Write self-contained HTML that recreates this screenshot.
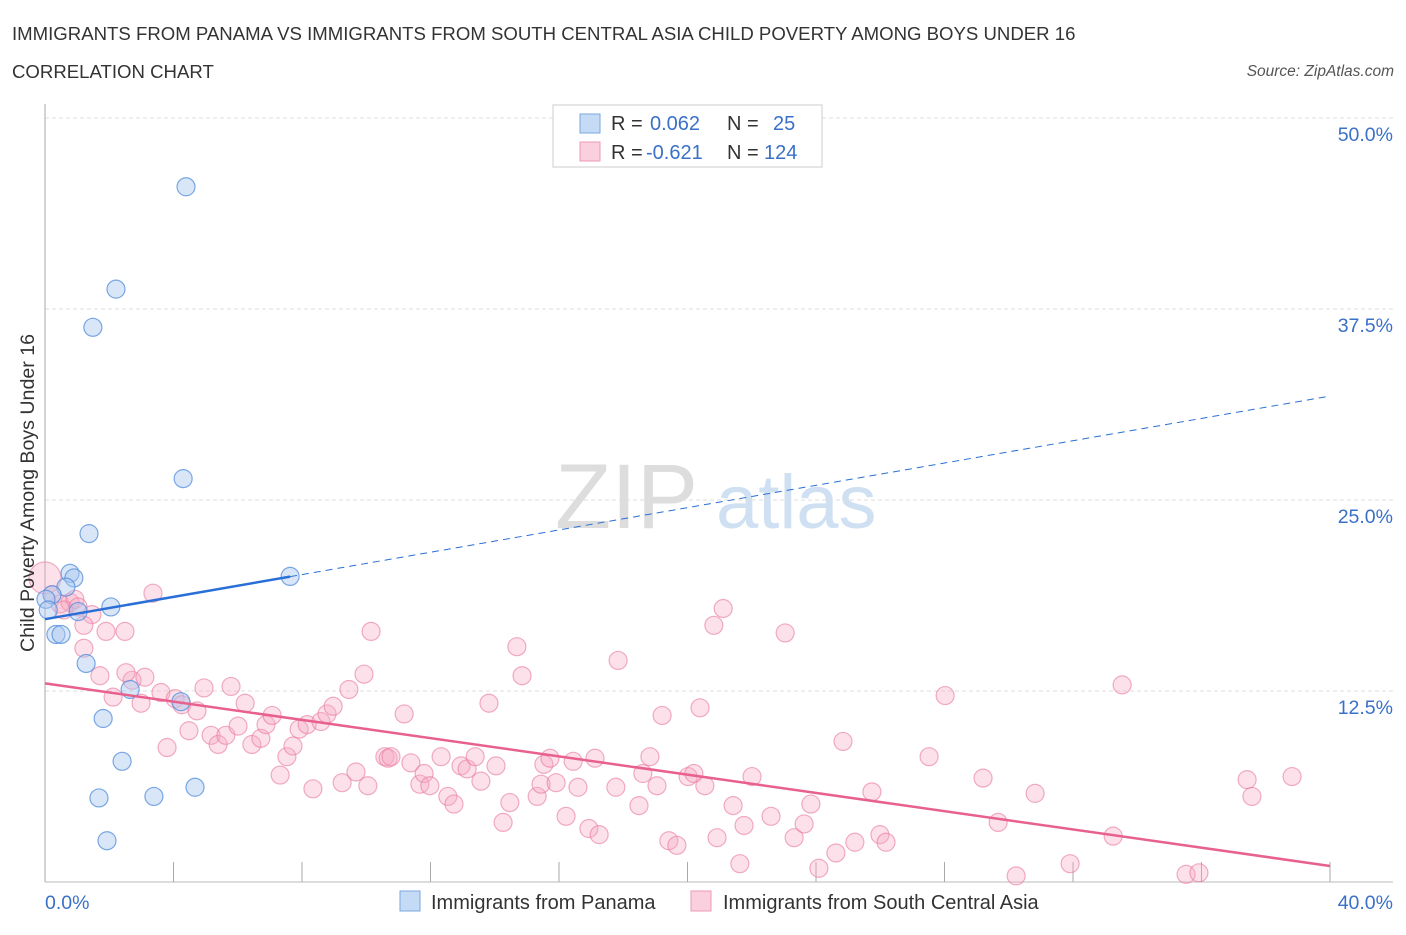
<!DOCTYPE html>
<html><head><meta charset="utf-8"><style>
body{margin:0;background:#fff;font-family:"Liberation Sans",sans-serif;}
svg text{font-family:"Liberation Sans",sans-serif;}
</style></head><body>
<svg id="chart" width="1406" height="930" xmlns="http://www.w3.org/2000/svg">
<text x="12" y="40" font-size="18.6" fill="#333">IMMIGRANTS FROM PANAMA VS IMMIGRANTS FROM SOUTH CENTRAL ASIA CHILD POVERTY AMONG BOYS UNDER 16</text>
<text x="12" y="78" font-size="18.6" fill="#333">CORRELATION CHART</text>
<text x="1394" y="76" font-size="15.5" fill="#555" text-anchor="end" font-style="italic">Source: ZipAtlas.com</text>
<text x="555" y="528" font-size="92" fill="#ddd" font-family="Liberation Serif">ZIP</text>
<text x="716" y="528" font-size="76" fill="#cfe0f3">atlas</text>
<g id="grid"></g><g id="axes"></g><g id="marks"></g>
<text transform="translate(34,493) rotate(-90)" font-size="19.6" fill="#333" text-anchor="middle">Child Poverty Among Boys Under 16</text>
<g>
<rect x="553" y="105" width="269" height="62" fill="#fff" stroke="#ccc"/>
<rect x="580" y="114" width="20" height="19" fill="#c5dbf5" stroke="#7aa7e0"/>
<rect x="580" y="142" width="20" height="19" fill="#fbd0de" stroke="#ec9ab5"/>
<text x="611" y="130" font-size="20" fill="#333">R = <tspan x="650" fill="#3a70c8">0.062</tspan><tspan x="727">N = </tspan><tspan x="773" fill="#3a70c8">25</tspan></text>
<text x="611" y="159" font-size="20" fill="#333">R = <tspan x="646" fill="#3a70c8">-0.621</tspan><tspan x="727">N = </tspan><tspan x="764" fill="#3a70c8">124</tspan></text>
</g>
<g>
<rect x="400" y="891" width="20" height="20" fill="#c5dbf5" stroke="#7aa7e0"/>
<text x="431" y="909" font-size="20" fill="#333">Immigrants from Panama</text>
<rect x="691" y="891" width="20" height="20" fill="#fbd0de" stroke="#ec9ab5"/>
<text x="723" y="909" font-size="20" fill="#333">Immigrants from South Central Asia</text>
</g>
</svg>
<script>
const yTicks=[12.5,25,37.5,50];
const yTickLabels=["12.5%","25.0%","37.5%","50.0%"];
const xTicks=[0,4,8,12,16,20,24,28,32,36,40];
const panamaX=[4.39,2.21,1.49,4.30,1.37,7.63,0.78,0.90,0.65,0.22,0.03,2.05,1.03,0.34,0.50,1.28,4.23,2.65,1.81,2.40,1.68,3.39,4.67,1.93,0.1];
const panamaY=[45.5,38.8,36.3,26.4,22.8,20.0,20.2,19.9,19.3,18.8,18.5,18.0,17.7,16.2,16.2,14.3,11.8,12.6,10.7,7.9,5.5,5.6,6.2,2.7,17.8];
const scaX=[0,.22,.47,.78,.93,.59,1.03,1.46,1.21,1.90,2.49,1.21,1.71,2.12,2.71,3.11,2.52,2.99,3.61,3.36,3.80,4.05,4.26,4.48,4.73,4.95,5.17,5.39,5.63,5.79,6.01,6.23,6.44,6.72,6.88,7.07,7.32,7.53,7.72,7.91,8.16,8.34,8.59,8.78,8.97,9.25,9.46,9.68,9.93,10.05,10.15,10.58,10.68,10.77,11.18,11.39,11.67,11.80,11.98,12.33,12.54,12.73,12.95,13.14,13.39,13.57,13.82,14.04,14.26,14.47,14.69,14.85,15.32,15.44,15.53,15.72,15.91,16.22,16.44,16.59,16.93,17.12,17.25,17.84,17.77,18.49,18.61,18.83,19.05,19.21,19.42,19.67,20.02,20.20,20.39,20.82,21.11,20.54,20.92,21.42,21.63,21.76,22.01,22.60,23.04,23.32,23.63,23.84,24.09,24.62,24.84,25.21,25.74,25.99,26.18,27.52,28.02,29.20,29.67,30.23,30.82,31.91,33.25,33.53,35.52,35.92,37.42,37.57,38.82];
const scaY=[19.9,18.8,18.2,18.3,18.5,17.8,18.0,17.5,16.8,16.4,16.4,15.3,13.5,12.1,13.2,13.4,13.7,11.7,12.4,18.9,8.8,12.0,11.6,9.9,11.2,12.7,9.6,9.0,9.6,12.8,10.2,11.7,9.0,9.4,10.3,10.9,7.0,8.2,8.9,10.0,10.3,6.1,10.5,11.0,11.5,6.5,12.6,7.2,13.6,6.3,16.4,8.2,8.1,8.2,11.0,7.8,6.4,7.1,6.3,8.2,5.6,5.1,7.6,7.4,8.2,6.6,11.7,7.6,3.9,5.2,15.4,13.5,5.6,6.4,7.7,8.1,6.5,4.3,7.9,6.2,3.5,8.1,3.1,14.5,6.2,5.0,7.1,8.2,6.3,10.9,2.7,2.4,6.9,7.1,11.4,16.8,17.9,6.3,2.9,5.0,1.2,3.7,6.9,4.3,16.3,2.9,3.8,5.1,0.9,1.9,9.2,2.6,5.9,3.1,2.6,8.2,12.2,6.8,3.9,0.4,5.8,1.2,3.0,12.9,0.5,0.6,6.7,5.6,6.9];
const panamaTrend=[17.2,31.8];
const scaTrend=[13.0,1.05];
const panamaSolidEnd=7.63;
const X0=45,X1=1330,Y0=882,PXY=15.28;
function sx(v){return X0+(X1-X0)*v/40;}
function sy(v){return Y0-v*PXY;}
const NS="http://www.w3.org/2000/svg";
function mk(tag,attrs,parent){const e=document.createElementNS(NS,tag);for(const k in attrs)e.setAttribute(k,attrs[k]);parent.appendChild(e);return e;}
const grid=document.getElementById('grid'),axes=document.getElementById('axes'),marks=document.getElementById('marks');
yTicks.forEach((t,i)=>{
  const l=mk('line',{x1:X0,x2:1393,y1:sy(t),y2:sy(t),stroke:'#ddd','stroke-dasharray':'4,3'},grid);
  
  
  const tx=mk('text',{x:1393,y:sy(t)+23,'font-size':19.5,fill:'#3a70c8','text-anchor':'end'},grid);
  tx.textContent=yTickLabels[i];
  
  
});
let a=mk('line',{x1:X0,x2:X0,y1:104,y2:Y0,stroke:'#aaa'},axes);


a=mk('line',{x1:X0,x2:1393,y1:Y0,y2:Y0,stroke:'#bbb'},axes);


xTicks.forEach(t=>{
  const l=mk('line',{x1:sx(t),x2:sx(t),y1:Y0,y2:Y0-20,stroke:'#aaa'},axes);
  
  
});
let t0=mk('text',{x:45,y:909,'font-size':19.5,fill:'#3a70c8'},axes);t0.textContent='0.0%';


let t1=mk('text',{x:1393,y:909,'font-size':19.5,fill:'#3a70c8','text-anchor':'end'},axes);t1.textContent='40.0%';


scaX.forEach((x,i)=>{
  const c=mk('circle',{cx:sx(x),cy:sy(scaY[i]),r:i===0?16:9,fill:'rgba(246,170,195,0.35)',stroke:'rgba(232,120,158,0.6)','stroke-width':1.2},marks);
  
  
});
panamaX.forEach((x,i)=>{
  const c=mk('circle',{cx:sx(x),cy:sy(panamaY[i]),r:9,fill:'rgba(170,200,240,0.45)',stroke:'rgba(80,140,220,0.75)','stroke-width':1.2},marks);
  
  
});
function py(x){return panamaTrend[0]+(panamaTrend[1]-panamaTrend[0])*x/40;}
let l=mk('line',{x1:sx(0),y1:sy(py(0)),x2:sx(panamaSolidEnd),y2:sy(py(panamaSolidEnd)),stroke:'#2a6fd6','stroke-width':2.5},marks);


l=mk('line',{x1:sx(panamaSolidEnd),y1:sy(py(panamaSolidEnd)),x2:sx(40),y2:sy(py(40)),stroke:'#2a6fd6','stroke-width':1,'stroke-dasharray':'7,5'},marks);


l=mk('line',{x1:sx(0),y1:sy(scaTrend[0]),x2:sx(40),y2:sy(scaTrend[1]),stroke:'#e8608e','stroke-width':2.5},marks);


</script>
</body></html>
